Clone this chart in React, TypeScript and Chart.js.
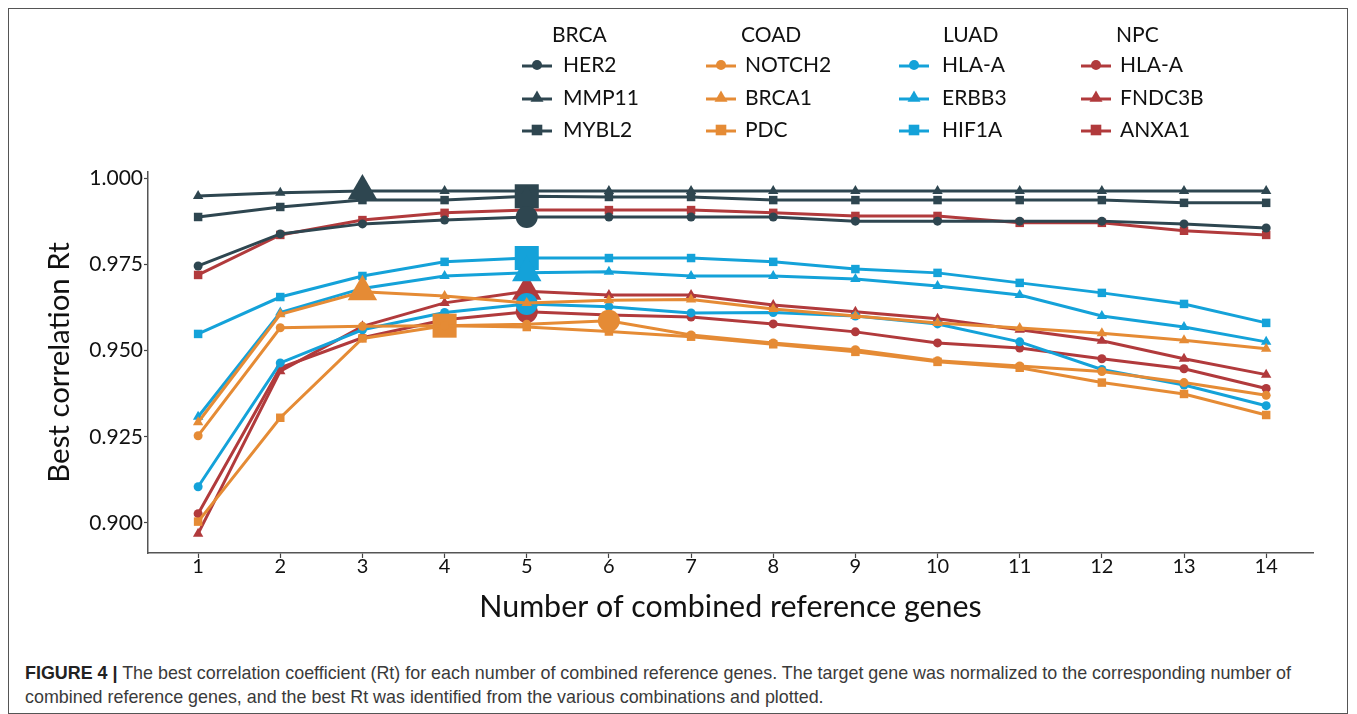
import React, { useEffect, useRef } from "react";
import { Chart, registerables } from "chart.js";

Chart.register(...registerables);

const combos = [1, 2, 3, 4, 5, 6, 7, 8, 9, 10, 11, 12, 13, 14];
const yTicks = [0.9, 0.925, 0.95, 0.975, 1.0];

const groupNames = ["BRCA", "COAD", "LUAD", "NPC"];
const groupColors = ["#2E4650", "#E58B35", "#14A2D9", "#B13A3C"];
const geneNames = [
  ["HER2", "MMP11", "MYBL2"],
  ["NOTCH2", "BRCA1", "PDC"],
  ["HLA-A", "ERBB3", "HIF1A"],
  ["HLA-A", "FNDC3B", "ANXA1"],
];
const geneStyles = ["circle", "triangle", "rect"];

const brcaHER2 = [0.9745, 0.9838, 0.9867, 0.9878, 0.9887, 0.9887, 0.9887, 0.9887, 0.9875, 0.9875, 0.9875, 0.9875, 0.9867, 0.9855];
const brcaMMP11 = [0.9948, 0.9957, 0.9962, 0.9962, 0.9962, 0.9962, 0.9962, 0.9962, 0.9962, 0.9962, 0.9962, 0.9962, 0.9962, 0.9962];
const brcaMYBL2 = [0.9887, 0.9916, 0.9936, 0.9936, 0.9947, 0.9945, 0.9945, 0.9936, 0.9936, 0.9936, 0.9936, 0.9936, 0.9928, 0.9928];

const coadNOTCH2 = [0.9253, 0.9566, 0.957, 0.9572, 0.9576, 0.9586, 0.9545, 0.9522, 0.9502, 0.947, 0.9455, 0.9439, 0.9407, 0.937];
const coadBRCA1 = [0.9292, 0.9605, 0.967, 0.9658, 0.9638, 0.9646, 0.9648, 0.962, 0.96, 0.958, 0.9565, 0.955, 0.953, 0.9505];
const coadPDC = [0.9004, 0.9305, 0.9535, 0.9572, 0.9568, 0.9555, 0.954, 0.9518, 0.9496, 0.9467, 0.945, 0.9407, 0.9374, 0.9313];

const luadHLAA = [0.9105, 0.9464, 0.956, 0.961, 0.9635, 0.9627, 0.9609, 0.961, 0.96, 0.9577, 0.9525, 0.9445, 0.94, 0.934];
const luadERBB3 = [0.9308, 0.961, 0.968, 0.9716, 0.9725, 0.9728, 0.9716, 0.9716, 0.9707, 0.9687, 0.9661, 0.96, 0.9568, 0.9525];
const luadHIF1A = [0.9548, 0.9655, 0.9716, 0.9757, 0.9768, 0.9768, 0.9768, 0.9757, 0.9736, 0.9725, 0.9696, 0.9667, 0.9635, 0.958];

const npcHLAA = [0.9027, 0.945, 0.9537, 0.9589, 0.9612, 0.9603, 0.9597, 0.9577, 0.9554, 0.9522, 0.9507, 0.9476, 0.9447, 0.939];
const npcFNDC3B = [0.8969, 0.944, 0.957, 0.9638, 0.9672, 0.9661, 0.9661, 0.9632, 0.9612, 0.9592, 0.956, 0.9528, 0.9476, 0.943];
const npcANXA1 = [0.9719, 0.9835, 0.9878, 0.9899, 0.9907, 0.9907, 0.9907, 0.9899, 0.989, 0.989, 0.987, 0.987, 0.9847, 0.9835];

const seriesValues = [
  [brcaHER2, brcaMMP11, brcaMYBL2],
  [coadNOTCH2, coadBRCA1, coadPDC],
  [luadHLAA, luadERBB3, luadHIF1A],
  [npcHLAA, npcFNDC3B, npcANXA1],
];
// number of combined genes giving the highlighted (large) marker, per series
const bestCombo = [
  [5, 3, 5],
  [6, 3, 4],
  [5, 5, 5],
  [5, 5, null],
];

const FONT = "Lato, 'Open Sans', sans-serif";
const smallR: Record<string, number> = { circle: 4.5, triangle: 6, rect: 6 };
const bigR: Record<string, number> = { circle: 11, triangle: 17, rect: 17 };

function drawMarker(ctx: CanvasRenderingContext2D, style: string, x: number, y: number, r: number) {
  ctx.beginPath();
  if (style === "circle") {
    ctx.arc(x, y, r, 0, Math.PI * 2);
  } else if (style === "triangle") {
    ctx.moveTo(x, y - r);
    ctx.lineTo(x + r * 0.866, y + r * 0.5);
    ctx.lineTo(x - r * 0.866, y + r * 0.5);
    ctx.closePath();
  } else {
    const s = r * Math.SQRT1_2;
    ctx.rect(x - s, y - s, s * 2, s * 2);
  }
  ctx.fill();
}

const legendPlugin = {
  id: "groupLegend",
  afterDraw(chart: any) {
    const ctx = chart.ctx as CanvasRenderingContext2D;
    const markerX = [528, 712, 905, 1087];
    const textX = [554, 736, 933, 1111];
    const headerX = [543, 732, 934, 1107];
    const rowY = [56, 89, 121];
    ctx.save();
    ctx.font = `21px ${FONT}`;
    ctx.textBaseline = "middle";
    ctx.textAlign = "left";
    groupNames.forEach((g, gi) => {
      ctx.fillStyle = "#111";
      ctx.fillText(g, headerX[gi], 26);
      geneNames[gi].forEach((name, ni) => {
        const y = rowY[ni];
        const c = groupColors[gi];
        ctx.strokeStyle = c;
        ctx.fillStyle = c;
        ctx.lineWidth = 3;
        ctx.beginPath();
        ctx.moveTo(markerX[gi] - 15, y + 1);
        ctx.lineTo(markerX[gi] + 15, y + 1);
        ctx.stroke();
        drawMarker(ctx, geneStyles[ni], markerX[gi], y, geneStyles[ni] === "circle" ? 5 : 7.5);
        ctx.fillStyle = "#111";
        ctx.fillText(name, textX[gi], y);
      });
    });
    ctx.restore();
  },
};

export default function App() {
  const ref = useRef<HTMLCanvasElement | null>(null);

  useEffect(() => {
    if (!ref.current) return;
    const datasets: any[] = [];
    seriesValues.forEach((grp, gi) => {
      grp.forEach((vals, ni) => {
        const style = geneStyles[ni];
        const best = bestCombo[gi][ni];
        datasets.push({
          label: `${groupNames[gi]} ${geneNames[gi][ni]}`,
          data: combos.map((c, i) => ({ x: c, y: vals[i] })),
          borderColor: groupColors[gi],
          backgroundColor: groupColors[gi],
          borderWidth: 3,
          tension: 0,
          pointStyle: style,
          pointRadius: combos.map((c) => (c === best ? bigR[style] : smallR[style])),
          pointBorderWidth: 0,
        });
      });
    });

    const chart = new Chart(ref.current, {
      type: "line",
      data: { datasets },
      plugins: [legendPlugin],
      options: {
        animation: false,
        responsive: false,
        devicePixelRatio: 1,
        layout: { padding: { top: 163, right: 34, bottom: 16, left: 0 } },
        plugins: { legend: { display: false }, tooltip: { enabled: false } },
        scales: {
          x: {
            type: "linear",
            min: 0.39,
            max: 14.57,
            afterFit: (s: any) => {
              s.height = 80;
            },
            afterBuildTicks: (s: any) => {
              s.ticks = combos.map((v) => ({ value: v }));
            },
            ticks: {
              font: { family: FONT, size: 20 },
              color: "#111",
              padding: -3,
              maxRotation: 0,
              callback: (v: any) => String(v),
            },
            grid: { drawOnChartArea: false, drawTicks: true, tickLength: 5, tickColor: "#444", tickWidth: 1.2 },
            border: { color: "#555", width: 1.5 },
            title: {
              display: true,
              text: "Number of combined reference genes",
              font: { family: FONT, size: 30.4 },
              color: "#111",
              padding: { top: 0, bottom: 8 },
            },
          },
          y: {
            type: "linear",
            min: 0.8913,
            max: 1.00174,
            afterFit: (s: any) => {
              s.width = 139;
            },
            afterBuildTicks: (s: any) => {
              s.ticks = yTicks.map((v) => ({ value: v }));
            },
            ticks: {
              font: { family: FONT, size: 21 },
              color: "#111",
              padding: 1,
              callback: (v: any) => Number(v).toFixed(3),
            },
            grid: { drawOnChartArea: false, drawTicks: true, tickLength: 4, tickColor: "#444", tickWidth: 1.2 },
            border: { color: "#555", width: 1.5 },
            title: {
              display: true,
              text: "Best correlation Rt",
              font: { family: FONT, size: 29.4 },
              color: "#111",
              padding: { top: 33, bottom: 0 },
            },
          },
        },
      },
    });
    return () => chart.destroy();
  }, []);

  return (
    <div
      style={{
        position: "relative",
        width: 1338,
        height: 704,
        border: "1px solid #555",
        background: "#fff",
      }}
    >
      <canvas ref={ref} width={1338} height={640} style={{ display: "block" }} />
      <div
        style={{
          position: "absolute",
          left: 16,
          top: 652,
          fontFamily: "'Liberation Sans', Arial, sans-serif",
          fontSize: 17.9,
          lineHeight: "24px",
          color: "#3a3a3a",
          whiteSpace: "nowrap",
        }}
      >
        <span style={{ fontWeight: "bold", color: "#222" }}>FIGURE 4 |</span> The best correlation coefficient (Rt) for
        each number of combined reference genes. The target gene was normalized to the corresponding number of
        <br />
        combined reference genes, and the best Rt was identified from the various combinations and plotted.
      </div>
    </div>
  );
}
